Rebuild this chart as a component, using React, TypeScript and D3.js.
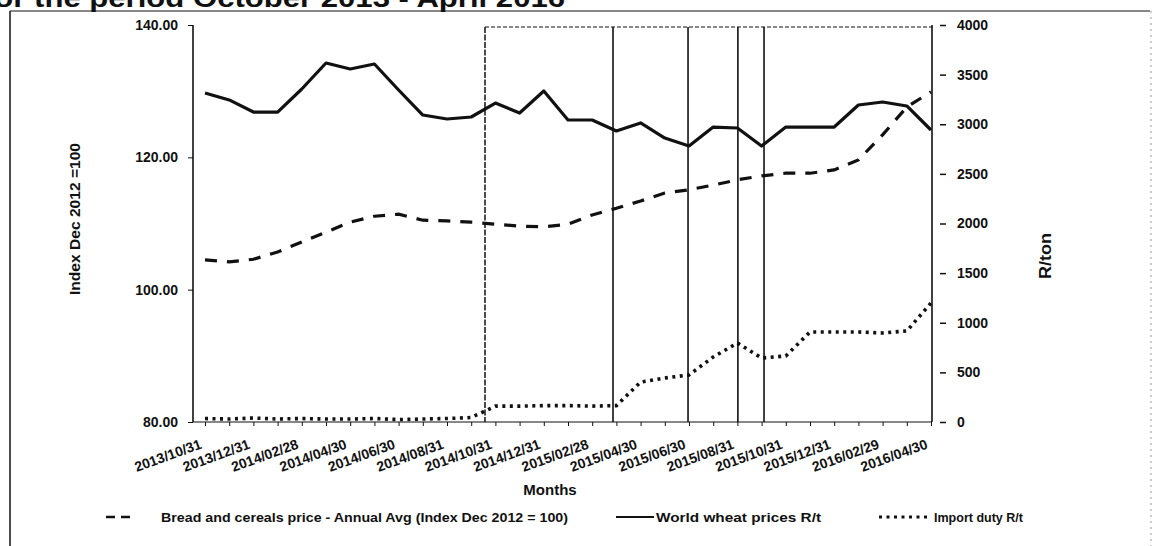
import React, { useEffect, useRef } from 'react'
import * as d3 from 'd3'

// monthly observations, Oct 2013 - Apr 2016
const months = [
  '2013/10/31', '2013/11/30', '2013/12/31', '2014/01/31', '2014/02/28', '2014/03/31',
  '2014/04/30', '2014/05/31', '2014/06/30', '2014/07/31', '2014/08/31', '2014/09/30',
  '2014/10/31', '2014/11/30', '2014/12/31', '2015/01/31', '2015/02/28', '2015/03/31',
  '2015/04/30', '2015/05/31', '2015/06/30', '2015/07/31', '2015/08/31', '2015/09/30',
  '2015/10/31', '2015/11/30', '2015/12/31', '2016/01/31', '2016/02/29', '2016/03/31',
  '2016/04/30'
]

// Bread and cereals price index (left axis)
const breadIndex = [
  104.5, 104.2, 104.6, 105.7, 107.2, 108.7, 110.2, 111.1, 111.4, 110.5, 110.4, 110.2,
  109.9, 109.6, 109.5, 109.9, 111.3, 112.3, 113.4, 114.6, 115.1, 115.8, 116.6, 117.2,
  117.6, 117.6, 118.1, 119.6, 123.4, 127.6, 129.9
]

// World wheat prices R/t (right axis)
const wheatPrice = [
  3315, 3245, 3123, 3123, 3355, 3617, 3557, 3607, 3345, 3093, 3053, 3073,
  3214, 3113, 3335, 3043, 3043, 2932, 3013, 2861, 2781, 2972, 2962, 2781,
  2972, 2972, 2972, 3194, 3224, 3184, 2942
]

// Import duty R/t (right axis)
const importDuty = [
  35, 30, 40, 30, 35, 30, 30, 35, 25, 30, 35, 45,
  160, 160, 165, 165, 160, 165, 403, 443, 474, 655, 796, 645,
  665, 907, 907, 907, 897, 917, 1199
]

const leftTicks = [80, 100, 120, 140]
const rightTicks = [0, 500, 1000, 1500, 2000, 2500, 3000, 3500, 4000]

// hand drawn period markers (month index)
const boxStart = 11.57
const markerLines = [16.86, 19.96, 22.02, 23.1]

const legendItems = [
  'Bread and cereals price - Annual Avg (Index Dec 2012 = 100)',
  'World wheat prices R/t',
  'Import duty R/t'
]

const FONT = "'Liberation Sans', Arial, sans-serif"
const INK = '#111'

export default function App() {
  const ref = useRef<SVGSVGElement>(null)

  useEffect(() => {
    const svg = d3.select(ref.current)
    svg.selectAll('*').remove()

    const left = 193, right = 932, top = 25, bottom = 422

    const x = d3.scaleLinear().domain([0, months.length - 1]).range([205, 931])
    const yL = d3.scaleLinear().domain([80, 140]).range([bottom, top])
    const yR = d3.scaleLinear().domain([0, 4000]).range([bottom, top])

    svg.append('rect').attr('width', 1156).attr('height', 546).attr('fill', '#fff')

    // outer frame of the scanned figure
    svg.append('line').attr('x1', 10).attr('x2', 10).attr('y1', 11).attr('y2', 546)
      .attr('stroke', INK).attr('stroke-width', 1.5)
    svg.append('line').attr('x1', 10).attr('x2', 1150).attr('y1', 11).attr('y2', 11)
      .attr('stroke', INK).attr('stroke-width', 1.2)
    svg.append('line').attr('x1', 1151).attr('x2', 1151).attr('y1', 11).attr('y2', 546)
      .attr('stroke', '#999').attr('stroke-width', 1).attr('stroke-dasharray', '2 4')

    // cut-off title
    svg.append('text').attr('x', -16).attr('y', 7)
      .attr('font-family', FONT).attr('font-weight', 'bold').attr('font-size', 26)
      .attr('textLength', 581).attr('lengthAdjust', 'spacingAndGlyphs')
      .attr('fill', INK)
      .text('for the period October 2013 - April 2016')

    // period box and marker lines
    svg.append('line').attr('x1', x(boxStart)).attr('x2', right).attr('y1', top + 2).attr('y2', top + 2)
      .attr('stroke', INK).attr('stroke-width', 1.2).attr('stroke-dasharray', '4 2')
    svg.append('line').attr('x1', x(boxStart)).attr('x2', x(boxStart)).attr('y1', top + 2).attr('y2', bottom)
      .attr('stroke', INK).attr('stroke-width', 1.5).attr('stroke-dasharray', '6 1.5')
    svg.selectAll('.marker').data(markerLines).enter().append('line')
      .attr('x1', d => x(d)).attr('x2', d => x(d))
      .attr('y1', top + 2).attr('y2', bottom)
      .attr('stroke', INK).attr('stroke-width', 1.6)

    // x axis
    const xAxis = d3.axisBottom(x)
      .tickValues(d3.range(0, months.length))
      .tickSize(4)
      .tickFormat((d: any) => (d % 2 === 0 ? months[d] : ''))
    const gx = svg.append('g').attr('transform', `translate(0,${bottom})`).call(xAxis)
    gx.select('.domain').attr('d', `M${left},0H${right}`).attr('stroke', INK).attr('stroke-width', 1.2)
    gx.selectAll('.tick line').attr('stroke', INK)
    gx.selectAll('.tick text')
      .attr('x', 0).attr('y', 0).attr('dy', 0)
      .attr('text-anchor', 'end')
      .attr('transform', 'translate(-3,26) rotate(-20)')
      .attr('font-family', FONT).attr('font-weight', 'bold').attr('font-size', 14)
      .attr('fill', INK)

    // left axis
    const gl = svg.append('g').attr('transform', `translate(${left},0)`)
      .call(d3.axisLeft(yL).tickValues(leftTicks).tickFormat(d3.format('.2f')).tickSize(5).tickPadding(10))
    gl.select('.domain').attr('d', `M0,${top}V${bottom}`).attr('stroke', INK).attr('stroke-width', 1.6)
    gl.selectAll('.tick line').attr('stroke', INK)
    gl.selectAll('.tick text').attr('font-family', FONT).attr('font-weight', 'bold')
      .attr('font-size', 14).attr('fill', INK)

    // right axis
    const gr = svg.append('g').attr('transform', `translate(${right},0)`)
      .call(d3.axisRight(yR).tickValues(rightTicks).tickSize(0).tickPadding(25).tickFormat(d3.format('d')))
    gr.select('.domain').attr('d', `M0,${top}V${bottom}`).attr('stroke', INK).attr('stroke-width', 1.6)
    gr.selectAll('.tick text').attr('font-family', FONT).attr('font-weight', 'bold')
      .attr('font-size', 14).attr('fill', INK)
    gr.selectAll('.tick').append('line')
      .attr('x1', 8).attr('x2', 14).attr('y1', 0).attr('y2', 0)
      .attr('stroke', INK).attr('stroke-width', 1.5)

    // axis titles
    svg.append('text')
      .attr('transform', `translate(80,${(143 + 295) / 2}) rotate(-90)`)
      .attr('text-anchor', 'middle')
      .attr('font-family', FONT).attr('font-weight', 'bold').attr('font-size', 15)
      .attr('textLength', 152).attr('lengthAdjust', 'spacingAndGlyphs')
      .attr('fill', INK)
      .text('Index  Dec 2012 =100')
    svg.append('text')
      .attr('transform', 'translate(1051,256) rotate(-90)')
      .attr('text-anchor', 'middle')
      .attr('font-family', FONT).attr('font-weight', 'bold').attr('font-size', 16)
      .attr('textLength', 46).attr('lengthAdjust', 'spacingAndGlyphs')
      .attr('fill', INK)
      .text('R/ton')
    svg.append('text').attr('x', 550).attr('y', 495)
      .attr('text-anchor', 'middle')
      .attr('font-family', FONT).attr('font-weight', 'bold').attr('font-size', 15)
      .attr('fill', INK)
      .text('Months')

    // series
    const lineL = d3.line<number>().x((_, i) => x(i)).y(d => yL(d))
    const lineR = d3.line<number>().x((_, i) => x(i)).y(d => yR(d))

    svg.append('path').datum(breadIndex).attr('d', lineL)
      .attr('fill', 'none').attr('stroke', INK).attr('stroke-width', 3.2)
      .attr('stroke-dasharray', '12 10')
    svg.append('path').datum(wheatPrice).attr('d', lineR)
      .attr('fill', 'none').attr('stroke', INK).attr('stroke-width', 3.2)
      .attr('stroke-linejoin', 'round')
    svg.append('path').datum(importDuty).attr('d', lineR)
      .attr('fill', 'none').attr('stroke', INK).attr('stroke-width', 3.6)
      .attr('stroke-dasharray', '3 4.5')

    // legend
    const ly = 517
    const lg = svg.append('g')
    lg.append('line').attr('x1', 106).attr('x2', 130).attr('y1', ly).attr('y2', ly)
      .attr('stroke', INK).attr('stroke-width', 2.5).attr('stroke-dasharray', '9 6')
    lg.append('line').attr('x1', 616).attr('x2', 654).attr('y1', ly).attr('y2', ly)
      .attr('stroke', INK).attr('stroke-width', 2)
    lg.append('line').attr('x1', 879).attr('x2', 929).attr('y1', ly).attr('y2', ly)
      .attr('stroke', INK).attr('stroke-width', 3).attr('stroke-dasharray', '3 4.5')
    const legendPos = [[161, 407], [656, 165], [934, 89]]
    lg.selectAll('.lt').data(legendItems).enter().append('text')
      .attr('x', (_, i) => legendPos[i][0]).attr('y', ly + 4.5)
      .attr('textLength', (_, i) => legendPos[i][1]).attr('lengthAdjust', 'spacingAndGlyphs')
      .attr('font-family', FONT).attr('font-weight', 'bold').attr('font-size', 12.5)
      .attr('fill', INK)
      .text(d => d)
  }, [])

  return (
    <svg ref={ref} width={1156} height={546}
      style={{ position: 'absolute', left: 0, top: 0, background: '#fff' }} />
  )
}
